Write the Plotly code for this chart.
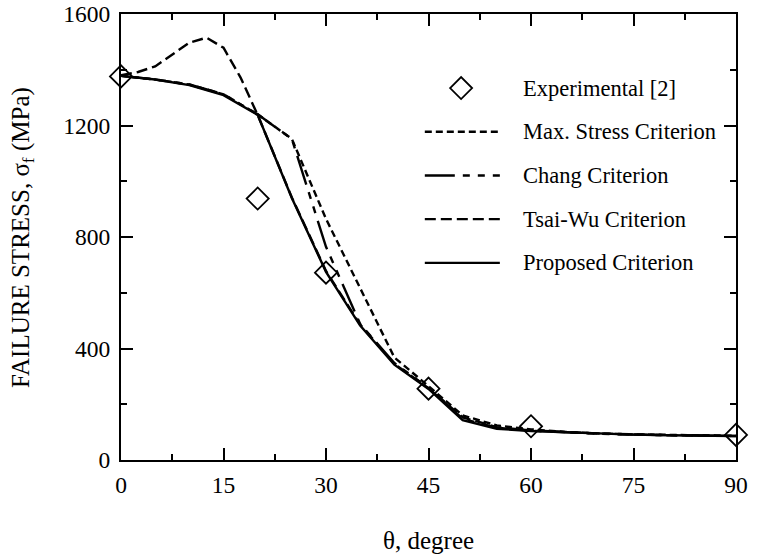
import plotly.graph_objects as go

# Fibre angle (degree) and failure stress (MPa)
theta_exp = [0, 20, 30, 45, 60, 90]
stress_exp = [1376, 938, 672, 256, 121, 90]

theta = [0, 5, 10, 15, 20, 25, 30, 35, 40, 45, 50, 55, 60, 65, 70, 75, 80, 85, 90]
max_stress = [1378, 1365, 1347, 1312, 1240, 1152, 865, 615, 368, 265, 160, 124, 110, 101, 95, 92, 90, 88, 87]
chang = [1378, 1365, 1347, 1312, 1240, 1152, 765, 488, 348, 258, 148, 116, 105, 99, 94, 91, 89, 87, 86]
proposed = [1378, 1365, 1345, 1309, 1238, 940, 675, 482, 342, 255, 143, 112, 104, 99, 94, 91, 89, 87, 86]

theta_tw = [0, 2.5, 5, 7.5, 10, 12.5, 15, 17.5, 20, 25, 30, 35, 40, 45, 50, 55, 60, 70, 80, 90]
tsai_wu = [1380, 1392, 1412, 1455, 1497, 1515, 1479, 1372, 1238, 942, 678, 486, 345, 258, 153, 118, 106, 95, 89, 86]

x_ticks = [0, 15, 30, 45, 60, 75, 90]
y_ticks = [0, 400, 800, 1200, 1600]

FONT = "Liberation Serif"
LW = 2.4
DASH_MAX = "7px,4px"
DASH_CHANG = "30px,8px,7px,8px,7px,8px"
DASH_TW = "11px,5px"

fig = go.Figure()
fig.add_trace(go.Scatter(x=theta, y=max_stress, mode="lines",
                         line=dict(color="black", width=LW, dash=DASH_MAX)))
fig.add_trace(go.Scatter(x=theta, y=chang, mode="lines",
                         line=dict(color="black", width=LW, dash=DASH_CHANG)))
fig.add_trace(go.Scatter(x=theta_tw, y=tsai_wu, mode="lines",
                         line=dict(color="black", width=LW, dash=DASH_TW)))
fig.add_trace(go.Scatter(x=theta, y=proposed, mode="lines",
                         line=dict(color="black", width=LW)))
fig.add_trace(go.Scatter(x=theta_exp, y=stress_exp, mode="markers", cliponaxis=False,
                         marker=dict(symbol="diamond-open", size=17,
                                     color="black", line=dict(width=1.8, color="black"))))

axis_common = dict(
    showgrid=False, zeroline=False, showline=True, linecolor="black", linewidth=2,
    mirror="ticks", ticks="inside", tickcolor="black", tickwidth=2, ticklen=12,
    automargin=False,
    tickfont=dict(family=FONT, size=23.5, color="black"),
)
fig.update_xaxes(range=[0, 90], tickvals=x_ticks, ticklabelstandoff=3,
                 minor=dict(ticks="inside", ticklen=6, tickwidth=2, tickcolor="black", dtick=7.5, tick0=0),
                 **axis_common)
fig.update_yaxes(range=[0, 1600], tickvals=y_ticks, ticklabelstandoff=4,
                 minor=dict(ticks="inside", ticklen=6, tickwidth=2, tickcolor="black", dtick=200, tick0=0),
                 **axis_common)

# Legend drawn inside the plotting area
legend_rows = [
    ("Max. Stress Criterion", DASH_MAX),
    ("Chang Criterion", DASH_CHANG),
    ("Tsai-Wu Criterion", DASH_TW),
    ("Proposed Criterion", "solid"),
]
row_top = 0.834
row_step = 0.098
line_x0, line_x1, text_x = 0.494, 0.616, 0.651
LEG_SIZE = 22.5

fig.add_shape(type="path", xref="paper", yref="paper", xsizemode="pixel", ysizemode="pixel",
              xanchor=0.553, yanchor=row_top,
              path="M-11,0 L0,11 L11,0 L0,-11 Z", line=dict(color="black", width=1.8))
annotations = [dict(x=text_x, y=row_top, xref="paper", yref="paper", text="Experimental [2]",
                    showarrow=False, xanchor="left", yanchor="middle",
                    font=dict(family=FONT, size=LEG_SIZE, color="black"))]
for i, (label, dash) in enumerate(legend_rows):
    yy = row_top - row_step * (i + 1)
    fig.add_shape(type="line", xref="paper", yref="paper", x0=line_x0, x1=line_x1, y0=yy, y1=yy,
                  line=dict(color="black", width=LW, dash=dash))
    annotations.append(dict(x=text_x, y=yy, xref="paper", yref="paper", text=label,
                            showarrow=False, xanchor="left", yanchor="middle",
                            font=dict(family=FONT, size=LEG_SIZE, color="black")))

annotations.append(dict(x=0.5, y=-0.18, xref="paper", yref="paper", text="θ, degree",
                        showarrow=False, xanchor="center", yanchor="middle",
                        font=dict(family=FONT, size=25, color="black")))
annotations.append(dict(x=-0.161, y=0.5, xref="paper", yref="paper",
                        text="FAILURE STRESS, σ<sub>f</sub> (MPa)", textangle=-90,
                        showarrow=False, xanchor="center", yanchor="middle",
                        font=dict(family=FONT, size=25, color="black")))

fig.update_layout(
    width=764, height=556,
    margin=dict(l=121, r=28, t=14, b=96),
    paper_bgcolor="white", plot_bgcolor="white",
    showlegend=False,
    annotations=annotations,
)

fig.write_html("out.html")
